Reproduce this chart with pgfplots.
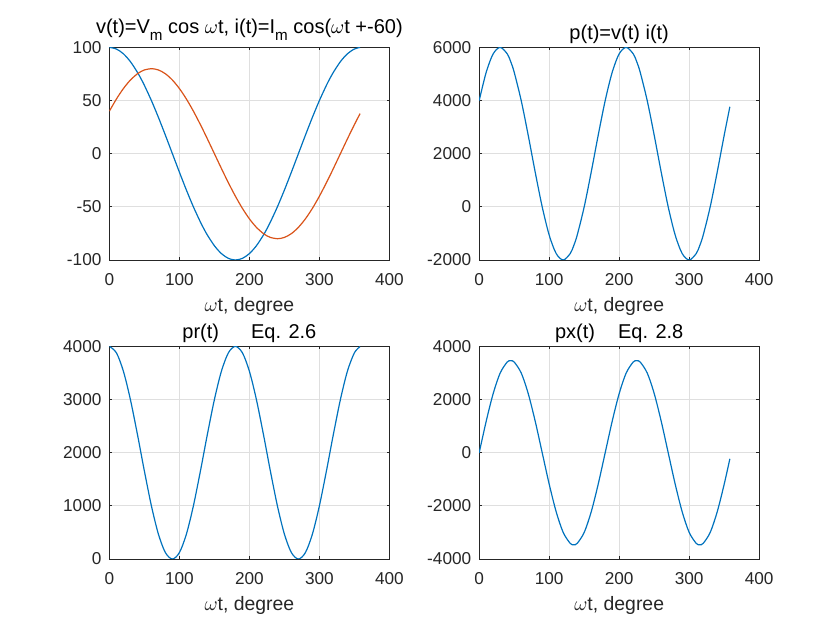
\documentclass[border=0pt]{standalone}
\usepackage{pgfplots}
\pgfplotsset{compat=1.18}
\usepackage{pgfplotstable}
\usepackage{fontspec}
\setmainfont{Liberation Sans}
\definecolor{mblue}{rgb}{0,0.447,0.741}
\definecolor{morange}{rgb}{0.85,0.325,0.098}
\definecolor{axgray}{RGB}{38,38,38}
\definecolor{gridgray}{RGB}{223,223,223}
\newcommand\msub{\raisebox{-3.6pt}{\fontsize{7.6}{8}\selectfont m}}

\pgfplotstableread{
x v i p pr px
0 100 40 4000 4000 0
10 98.48 51.42 5064.2 3879.4 1184.8
20 93.97 61.28 5758.8 3532.1 2226.7
30 86.60 69.28 6000 3000 3000
40 76.60 75.18 5758.8 2347.3 3411.5
45 70.71 77.27 5464.1 2000 3464.1
50 64.28 78.78 5064.2 1652.7 3411.5
60 50 80 4000 1000 3000
70 34.20 78.78 2694.6 467.9 2226.7
80 17.36 75.18 1305.4 120.6 1184.8
90 0 69.28 0 0 0
100 -17.36 61.28 -1064.2 120.6 -1184.8
110 -34.20 51.42 -1758.8 467.9 -2226.7
120 -50 40 -2000 1000 -3000
130 -64.28 27.36 -1758.8 1652.7 -3411.5
135 -70.71 20.71 -1464.1 2000 -3464.1
140 -76.60 13.89 -1064.2 2347.3 -3411.5
150 -86.60 0 0 3000 -3000
160 -93.97 -13.89 1305.4 3532.1 -2226.7
170 -98.48 -27.36 2694.6 3879.4 -1184.8
180 -100 -40 4000 4000 0
190 -98.48 -51.42 5064.2 3879.4 1184.8
200 -93.97 -61.28 5758.8 3532.1 2226.7
210 -86.60 -69.28 6000 3000 3000
220 -76.60 -75.18 5758.8 2347.3 3411.5
225 -70.71 -77.27 5464.1 2000 3464.1
230 -64.28 -78.78 5064.2 1652.7 3411.5
240 -50 -80 4000 1000 3000
250 -34.20 -78.78 2694.6 467.9 2226.7
260 -17.36 -75.18 1305.4 120.6 1184.8
270 0 -69.28 0 0 0
280 17.36 -61.28 -1064.2 120.6 -1184.8
290 34.20 -51.42 -1758.8 467.9 -2226.7
300 50 -40 -2000 1000 -3000
310 64.28 -27.36 -1758.8 1652.7 -3411.5
315 70.71 -20.71 -1464.1 2000 -3464.1
320 76.60 -13.89 -1064.2 2347.3 -3411.5
330 86.60 0 0 3000 -3000
340 93.97 13.89 1305.4 3532.1 -2226.7
350 98.48 27.36 2694.6 3879.4 -1184.8
358.1 99.95 37.68 3766 3995.6 -229.6
}\datatable

\pgfplotsset{
 mstyle/.style={
  scale only axis, width=140pt, height=106.3pt, anchor=south west,
  xmin=0, xmax=400, xtick={0,100,200,300,400},
  axis line style={axgray, line width=0.45pt},
  every tick/.style={axgray, line width=0.45pt},
  major tick length=1.4pt,
  tick align=inside,
  grid=major, major grid style={gridgray, line width=0.45pt},
  tick label style={font=\fontsize{8.6}{10}\selectfont, text=axgray},
  xticklabel style={anchor=north, inner sep=0pt, yshift=-6.6pt},
  yticklabel style={anchor=east, inner sep=0pt},
  yticklabel shift=3.8pt,
  scaled ticks=false,
  /pgf/number format/assume math mode=true,
  /pgf/number format/1000 sep={},
  xlabel={$\omega$t, degree},
  every axis x label/.style={at={(axis description cs:0.5,0)}, anchor=base, yshift=-26pt, inner sep=0pt, font=\fontsize{9.7}{11}\selectfont, text=axgray},
  every axis title/.style={at={(axis description cs:0.5,1)}, anchor=base, yshift=3.85pt, inner sep=0pt, font=\fontsize{10}{12}\selectfont, text=black},
  every axis plot/.append style={line width=0.6pt, smooth, no markers},
 }
}

\begin{document}
\begin{tikzpicture}
\path[use as bounding box] (0,0) rectangle (420pt,315pt);

\begin{axis}[mstyle, at={(54.7pt,185pt)},
  ymin=-100, ymax=100, ytick={-100,-50,0,50,100},
  title={v(t)=V\msub{} cos $\omega$t, i(t)=I\msub{} cos($\omega$t +-60)},
  title style={yshift=3.15pt}]
\addplot[mblue] table[x=x, y=v] {\datatable};
\addplot[morange] table[x=x, y=i] {\datatable};
\end{axis}

\begin{axis}[mstyle, at={(239.6pt,185pt)},
  ymin=-2000, ymax=6000, ytick={-2000,0,2000,4000,6000},
  title={p(t)=v(t) i(t)}]
\addplot[mblue] table[x=x, y=p] {\datatable};
\end{axis}

\begin{axis}[mstyle, at={(54.7pt,35.5pt)},
  ymin=0, ymax=4000, ytick={0,1000,2000,3000,4000},
  title={pr(t)\hspace{16pt}Eq. 2.6}]
\addplot[mblue] table[x=x, y=pr] {\datatable};
\end{axis}

\begin{axis}[mstyle, at={(239.6pt,35.5pt)},
  ymin=-4000, ymax=4000, ytick={-4000,-2000,0,2000,4000},
  title={px(t)\hspace{11.5pt}Eq. 2.8}]
\addplot[mblue] table[x=x, y=px] {\datatable};
\end{axis}
\end{tikzpicture}
\end{document}
